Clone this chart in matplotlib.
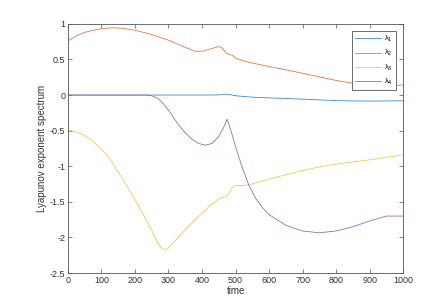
import matplotlib
matplotlib.use("Agg")
import matplotlib.pyplot as plt

plt.rcParams['font.family'] = ['Liberation Sans', 'DejaVu Sans']
plt.rcParams['mathtext.fontset'] = 'custom'
plt.rcParams['mathtext.rm'] = 'Liberation Sans'
plt.rcParams['mathtext.it'] = 'Liberation Sans'

# values
t1 = [0, 100, 200, 300, 400, 450, 465, 475, 485, 500, 550, 600, 650, 700, 750, 800, 850, 900, 950, 1000]
lam1 = [0, 0, 0, 0, 0, 0.002, 0.01, 0.012, 0.005, -0.01, -0.03, -0.04, -0.048, -0.058, -0.068, -0.078, -0.083, -0.085, -0.083, -0.08]

t2 = [0, 25, 50, 75, 100, 130, 160, 200, 250, 300, 350, 380, 400, 420, 440, 450, 458, 465, 472, 480, 490, 500, 530, 560, 600, 650, 700, 750, 800, 850, 900, 950, 1000]
lam2 = [0.76, 0.83, 0.88, 0.91, 0.93, 0.945, 0.94, 0.91, 0.85, 0.77, 0.67, 0.615, 0.615, 0.64, 0.67, 0.68, 0.67, 0.63, 0.59, 0.57, 0.56, 0.52, 0.47, 0.44, 0.40, 0.355, 0.305, 0.255, 0.205, 0.165, 0.14, 0.13, 0.14]

t3 = [0, 25, 50, 75, 100, 125, 150, 175, 200, 225, 250, 265, 280, 290, 300, 325, 350, 375, 400, 425, 450, 465, 472, 480, 490, 500, 525, 550, 600, 650, 700, 750, 800, 850, 900, 950, 1000]
lam3 = [-0.49, -0.52, -0.57, -0.65, -0.76, -0.9, -1.08, -1.27, -1.47, -1.68, -1.9, -2.05, -2.16, -2.17, -2.15, -2.02, -1.89, -1.77, -1.66, -1.55, -1.46, -1.43, -1.43, -1.38, -1.3, -1.27, -1.27, -1.25, -1.18, -1.12, -1.06, -1.01, -0.97, -0.94, -0.91, -0.875, -0.84]

t4 = [0, 100, 200, 230, 250, 270, 290, 310, 330, 350, 370, 390, 410, 430, 450, 465, 475, 485, 495, 505, 520, 540, 560, 580, 600, 650, 700, 750, 800, 850, 900, 950, 1000]
lam4 = [0, 0, 0, 0, -0.01, -0.05, -0.15, -0.28, -0.42, -0.53, -0.62, -0.68, -0.705, -0.68, -0.58, -0.45, -0.34, -0.48, -0.64, -0.8, -1.02, -1.27, -1.45, -1.58, -1.68, -1.83, -1.91, -1.935, -1.91, -1.85, -1.77, -1.7, -1.7]

colors = ['#3C8DCB', '#E2764A', '#F2C75A', '#A468AE']

fig = plt.figure(figsize=(4.44, 3.02), dpi=100)
ax = fig.add_axes([0.153, 0.096, 0.755, 0.825])

ax.plot(t1, lam1, color=colors[0], lw=0.6, label=r'$\lambda_1$')
ax.plot(t2, lam2, color=colors[1], lw=0.6, label=r'$\lambda_2$')
ax.plot(t3, lam3, color=colors[2], lw=0.6, label=r'$\lambda_3$')
ax.plot(t4, lam4, color=colors[3], lw=0.6, label=r'$\lambda_4$')

ax.set_xlim(0, 1000)
ax.set_ylim(-2.5, 1)
ax.set_xticks(range(0, 1001, 100))
ax.set_yticks([-2.5, -2, -1.5, -1, -0.5, 0, 0.5, 1])
ax.set_yticklabels(['-2.5', '-2', '-1.5', '-1', '-0.5', '0', '0.5', '1'])

axcol = '#555555'
for s in ax.spines.values():
    s.set_color(axcol)
    s.set_linewidth(0.6)
ax.tick_params(direction='in', length=3, width=0.5, colors=axcol, labelsize=6.5,
               top=True, right=True, labelcolor='#333333', pad=2)

ax.set_xlabel('time', fontsize=7, color='#333333', labelpad=1)
ax.set_ylabel('Lyapunov exponent spectrum', fontsize=7, color='#333333', labelpad=2)

leg = ax.legend(loc='upper right', bbox_to_anchor=(0.978, 0.972), fontsize=5.5,
                handlelength=3.4, fancybox=False, framealpha=1, borderpad=0.4,
                labelspacing=0.55, handletextpad=0.35, borderaxespad=0)
leg.get_frame().set_edgecolor(axcol)
leg.get_frame().set_linewidth(0.6)

plt.savefig('out.png', dpi=100)
